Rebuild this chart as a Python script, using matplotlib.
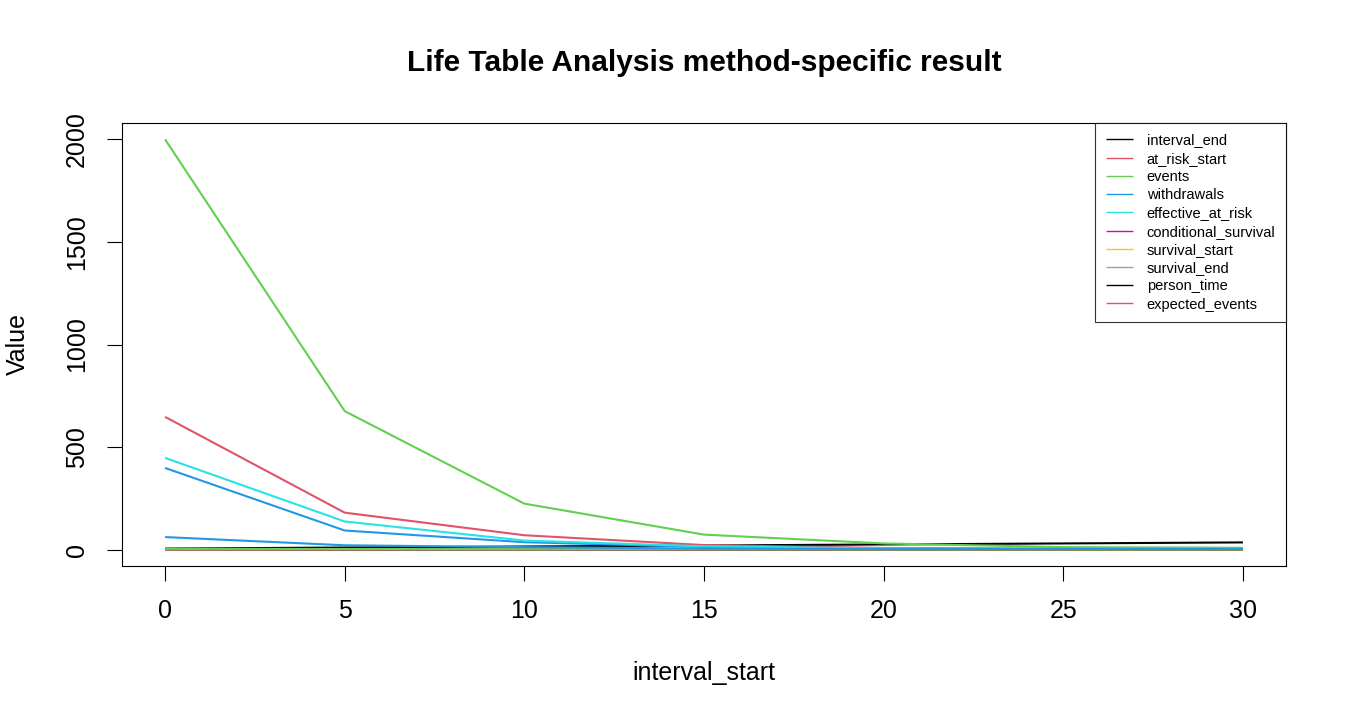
import matplotlib
matplotlib.use("Agg")
import matplotlib.pyplot as plt

plt.rcParams['font.family'] = ['Liberation Sans', 'DejaVu Sans']

# interval_start on the x axis
interval_start = [0, 5, 10, 15, 20, 25, 30]

# one list per column, in the order the legend shows them
interval_end = [5, 10, 15, 20, 25, 30, 35]
at_risk_start = [647, 180, 70, 22, 8, 4, 2]
events = [2000, 675, 224, 73, 30, 12, 9]
withdrawals = [398, 93, 36, 13, 5, 3, 2]
effective_at_risk = [447, 137, 44, 16, 6, 3, 2]
conditional_survival = [0.68, 0.73, 0.70, 0.68, 0.70, 0.62, 0.55]
survival_start = [1.0, 0.68, 0.50, 0.35, 0.24, 0.17, 0.10]
survival_end = [0.68, 0.50, 0.35, 0.24, 0.17, 0.10, 0.06]
person_time = [2, 1.5, 1.2, 1, 0.8, 0.6, 0.5]
expected_events = [2, 1.5, 1, 0.8, 0.5, 0.3, 0.2]
# two more columns get drawn but are not in the legend
extra_col11 = [4, 3, 2, 2, 1, 1, 1]
extra_col12 = [61, 21, 12, 5, 3, 3, 3]

names = ['interval_end', 'at_risk_start', 'events', 'withdrawals',
         'effective_at_risk', 'conditional_survival', 'survival_start',
         'survival_end', 'person_time', 'expected_events']
series = [interval_end, at_risk_start, events, withdrawals, effective_at_risk,
          conditional_survival, survival_start, survival_end, person_time,
          expected_events, extra_col11, extra_col12]

# R default palette
pal = ['black', '#DF536B', '#61D04F', '#2297E6', '#28E2E5', '#CD0BBC',
       '#F5C710', '#9E9E9E']

fig = plt.figure(figsize=(13.5, 7.2), dpi=100)
ax = fig.add_axes([122/1350, 1-566/720, (1286-122)/1350, (566-123)/720])

for i, ys in enumerate(series):
    lab = names[i] if i < len(names) else '_nolegend_'
    ax.plot(interval_start, ys, color=pal[i % 8], lw=1.5, label=lab,
            solid_capstyle='butt')

ax.set_xlim(-1.2, 31.2)
ax.set_ylim(-80, 2080)
ax.set_xticks([0, 5, 10, 15, 20, 25, 30])
ax.set_yticks([0, 500, 1000, 1500, 2000])
ax.tick_params(length=11, width=0.8, labelsize=18, direction='out')
ax.tick_params(axis='x', pad=13)
ax.tick_params(axis='y', pad=13)
plt.setp(ax.get_yticklabels(), rotation=90, va='center')
for s in ax.spines.values():
    s.set_linewidth(0.8)

fig.text(704/1350, 1-63/720, 'Life Table Analysis method-specific result',
         ha='center', va='center', fontsize=21.5, fontweight='bold')
fig.text(704/1350, 1-673/720, 'interval_start', ha='center', va='center',
         fontsize=18)
fig.text(18/1350, 1-344/720, 'Value', ha='center', va='center',
         rotation=90, fontsize=18)

leg = ax.legend(loc='upper right', fontsize=10.5, frameon=True, fancybox=False,
                borderaxespad=0, handlelength=1.85, handletextpad=0.95,
                labelspacing=0.29, borderpad=0.72)
leg.get_frame().set_edgecolor('black')
leg.get_frame().set_linewidth(0.8)
for h in leg.get_lines():
    h.set_linewidth(1.0)

fig.savefig('out.png', dpi=100)
